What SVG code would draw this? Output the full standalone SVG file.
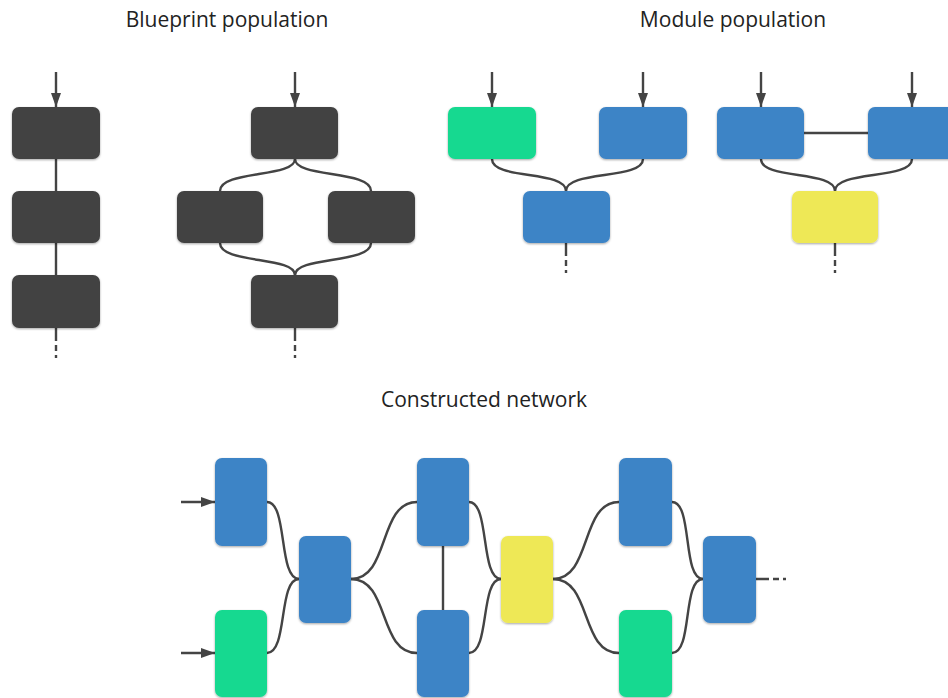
<svg xmlns="http://www.w3.org/2000/svg" width="948" height="698" viewBox="0 0 948 698">
  <defs>
    <filter id="shadow" x="-20%" y="-20%" width="140%" height="140%">
      <feDropShadow dx="0" dy="1" stdDeviation="1.2" flood-color="#000" flood-opacity="0.35"/>
    </filter>
    <marker id="arrow" viewBox="0 0 14 10" refX="14" refY="5" markerWidth="14" markerHeight="10" markerUnits="userSpaceOnUse" orient="auto">
      <path d="M0,0 L14,5 L0,10 Z" fill="#444"/>
    </marker>
    <style>
      .title { font-family: "Open Sans", "Liberation Sans", sans-serif; font-size: 21px; fill: #222; text-anchor: middle; }
      .box { filter: url(#shadow); }
      .dark { fill: #424242; }
      .blue { fill: #3d84c6; }
      .green { fill: #16d990; }
      .yellow { fill: #eee857; }
      .wire { fill: none; stroke: #444; stroke-width: 2.4; }
      .arrow { fill: none; stroke: #444; stroke-width: 2.4; marker-end: url(#arrow); }
      .tail { fill: none; stroke: #444; stroke-width: 2.4; stroke-dasharray: 13 4 6 4 3 40; }
    </style>
  </defs>

  <rect width="948" height="698" fill="#fff"/>

  <!-- section titles -->
  <text class="title" x="227" y="27">Blueprint population</text>
  <text class="title" x="733" y="27">Module population</text>
  <text class="title" x="484" y="407">Constructed network</text>

  <!-- connectors -->
  <g id="connectors">
    <!-- blueprint: linear chain -->
    <line class="arrow" x1="56" y1="72" x2="56" y2="107"/>
    <line class="wire" x1="56" y1="159" x2="56" y2="191"/>
    <line class="wire" x1="56" y1="243" x2="56" y2="275"/>
    <line class="tail" x1="56" y1="328" x2="56" y2="362"/>

    <!-- blueprint: split and merge -->
    <line class="arrow" x1="295" y1="72" x2="295" y2="107"/>
    <path class="wire" d="M295,159 C295,178 220,170 220,191"/>
    <path class="wire" d="M295,159 C295,178 371,170 371,191"/>
    <path class="wire" d="M220,243 C220,264 295,256 295,275"/>
    <path class="wire" d="M371,243 C371,264 295,256 295,275"/>
    <line class="tail" x1="295" y1="328" x2="295" y2="362"/>

    <!-- module 1 -->
    <line class="arrow" x1="492" y1="72" x2="492" y2="107"/>
    <line class="arrow" x1="643" y1="72" x2="643" y2="107"/>
    <path class="wire" d="M492,159 C492,180 566,170 566,191"/>
    <path class="wire" d="M643,159 C643,180 566,170 566,191"/>
    <line class="tail" x1="566" y1="243" x2="566" y2="277"/>

    <!-- module 2 -->
    <line class="arrow" x1="761" y1="72" x2="761" y2="107"/>
    <line class="arrow" x1="912" y1="72" x2="912" y2="107"/>
    <line class="wire" x1="804" y1="133" x2="868" y2="133"/>
    <path class="wire" d="M761,159 C761,180 835,170 835,191"/>
    <path class="wire" d="M912,159 C912,180 835,170 835,191"/>
    <line class="tail" x1="835" y1="243" x2="835" y2="277"/>

    <!-- constructed network -->
    <line class="arrow" x1="181" y1="502" x2="215" y2="502"/>
    <line class="arrow" x1="181" y1="653" x2="215" y2="653"/>
    <path class="wire" d="M267,502 C288,502 278,579 299,579"/>
    <path class="wire" d="M267,653 C288,653 278,579 299,579"/>
    <path class="wire" d="M351,579 C390,579 378,502 417,502"/>
    <path class="wire" d="M351,579 C390,579 378,653 417,653"/>
    <line class="wire" x1="443" y1="546" x2="443" y2="610"/>
    <path class="wire" d="M469,502 C490,502 480,579 501,579"/>
    <path class="wire" d="M469,653 C490,653 480,579 501,579"/>
    <path class="wire" d="M553,579 C592,579 580,502 619,502"/>
    <path class="wire" d="M553,579 C592,579 580,653 619,653"/>
    <path class="wire" d="M672,502 C693,502 682,579 703,579"/>
    <path class="wire" d="M672,653 C693,653 682,579 703,579"/>
    <line class="tail" x1="756" y1="579" x2="790" y2="579"/>
  </g>

  <!-- blueprint population: chain -->
  <g id="bp1-a"><rect class="box dark" x="12" y="107" width="88" height="52" rx="7"/></g>
  <g id="bp1-b"><rect class="box dark" x="12" y="191" width="88" height="52" rx="7"/></g>
  <g id="bp1-c"><rect class="box dark" x="12" y="275" width="88" height="53" rx="7"/></g>

  <!-- blueprint population: split/merge -->
  <g id="bp2-top"><rect class="box dark" x="251" y="107" width="87" height="52" rx="7"/></g>
  <g id="bp2-left"><rect class="box dark" x="177" y="191" width="86" height="52" rx="7"/></g>
  <g id="bp2-right"><rect class="box dark" x="328" y="191" width="87" height="52" rx="7"/></g>
  <g id="bp2-bottom"><rect class="box dark" x="251" y="275" width="87" height="53" rx="7"/></g>

  <!-- module population -->
  <g id="m1-left"><rect class="box green" x="448" y="107" width="88" height="52" rx="7"/></g>
  <g id="m1-right"><rect class="box blue" x="599" y="107" width="88" height="52" rx="7"/></g>
  <g id="m1-bottom"><rect class="box blue" x="523" y="191" width="87" height="52" rx="7"/></g>
  <g id="m2-left"><rect class="box blue" x="717" y="107" width="87" height="52" rx="7"/></g>
  <g id="m2-right"><rect class="box blue" x="868" y="107" width="88" height="52" rx="7"/></g>
  <g id="m2-bottom"><rect class="box yellow" x="792" y="191" width="86" height="52" rx="7"/></g>

  <!-- constructed network -->
  <g id="n-a"><rect class="box blue" x="215" y="458" width="52" height="88" rx="7"/></g>
  <g id="n-b"><rect class="box green" x="215" y="610" width="52" height="87" rx="7"/></g>
  <g id="n-c"><rect class="box blue" x="299" y="536" width="52" height="87" rx="7"/></g>
  <g id="n-d"><rect class="box blue" x="417" y="458" width="52" height="88" rx="7"/></g>
  <g id="n-e"><rect class="box blue" x="417" y="610" width="52" height="87" rx="7"/></g>
  <g id="n-f"><rect class="box yellow" x="501" y="536" width="52" height="87" rx="7"/></g>
  <g id="n-g"><rect class="box blue" x="619" y="458" width="53" height="88" rx="7"/></g>
  <g id="n-h"><rect class="box green" x="619" y="610" width="53" height="87" rx="7"/></g>
  <g id="n-i"><rect class="box blue" x="703" y="536" width="53" height="87" rx="7"/></g>
</svg>
